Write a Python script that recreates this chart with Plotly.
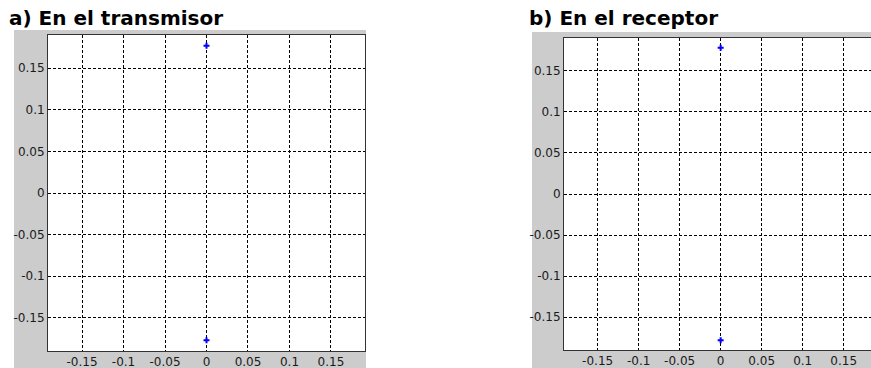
import plotly.graph_objects as go

W, H = 871, 368

# Data
tx_real = [0.0, 0.0]
tx_imag = [0.177, -0.177]
rx_real = [0.0, 0.0]
rx_imag = [0.178, -0.178]
tick_vals = [-0.15, -0.1, -0.05, 0, 0.05, 0.1, 0.15]
tick_text = ["-0.15", "-0.1", "-0.05", "0", "0.05", "0.1", "0.15"]
titles = ["a) En el transmisor", "b) En el receptor"]

def px_x(v):
    return v / W

def px_y(v):
    return 1 - v / H

fig = go.Figure()
fig.add_trace(go.Scatter(x=tx_real, y=tx_imag, mode="markers", xaxis="x", yaxis="y",
                         marker=dict(symbol="cross", size=5, color="#0000ff"), showlegend=False))
fig.add_trace(go.Scatter(x=rx_real, y=rx_imag, mode="markers", xaxis="x2", yaxis="y2",
                         marker=dict(symbol="cross", size=5, color="#0000ff"), showlegend=False))

tickfont = dict(family="DejaVu Sans, sans-serif", size=12, color="#1a1a1a")

def ax(domain, rng, anchor, mirror=True):
    return dict(domain=domain, range=rng, anchor=anchor, tickvals=tick_vals, ticktext=tick_text,
                showgrid=True, gridcolor="#000000", gridwidth=1, griddash="3px,2px",
                zeroline=False, showline=True, linecolor="#333333", linewidth=1, mirror=mirror,
                ticks="", tickfont=tickfont, fixedrange=True)

L = dict(x0=48, x1=365, y0=35, y1=351)
R = dict(x0=564, x1=W, y0=38, y1=350)

fig.update_layout(
    width=W, height=H, margin=dict(l=0, r=0, t=0, b=0),
    paper_bgcolor="white", plot_bgcolor="white",
    xaxis=ax([px_x(L["x0"]), px_x(L["x1"])], [-0.191, 0.191], "y"),
    yaxis=ax([px_y(L["y1"]), px_y(L["y0"])], [-0.19, 0.19], "x"),
    xaxis2=ax([px_x(R["x0"]), 1.0], [-0.191, 0.1833], "y2"),
    yaxis2=ax([px_y(R["y1"]), px_y(R["y0"])], [-0.19, 0.19], "x2", mirror=False),
    shapes=[
        dict(type="rect", xref="paper", yref="paper", x0=px_x(14), x1=px_x(366),
             y0=0, y1=px_y(30), fillcolor="#cccccc", line=dict(width=0), layer="below"),
        dict(type="rect", xref="paper", yref="paper", x0=px_x(532), x1=1.0,
             y0=0, y1=px_y(32), fillcolor="#cccccc", line=dict(width=0), layer="below"),
        dict(type="rect", xref="paper", yref="paper", x0=px_x(L["x0"]), x1=px_x(L["x1"]),
             y0=px_y(L["y1"]), y1=px_y(L["y0"]), fillcolor="white", line=dict(width=0), layer="below"),
        dict(type="rect", xref="paper", yref="paper", x0=px_x(R["x0"]), x1=1.0,
             y0=px_y(R["y1"]), y1=px_y(R["y0"]), fillcolor="white", line=dict(width=0), layer="below"),
    ],
    annotations=[
        dict(text="<b>" + titles[0] + "</b>", xref="paper", yref="paper", x=px_x(7), y=px_y(18),
             xanchor="left", yanchor="middle", showarrow=False,
             font=dict(family="DejaVu Sans, sans-serif", size=20, color="#000")),
        dict(text="<b>" + titles[1] + "</b>", xref="paper", yref="paper", x=px_x(527), y=px_y(18),
             xanchor="left", yanchor="middle", showarrow=False,
             font=dict(family="DejaVu Sans, sans-serif", size=20, color="#000")),
    ],
)

fig.write_html("out.html", config={"displayModeBar": False},
               post_script="document.body.style.margin='0px';")
